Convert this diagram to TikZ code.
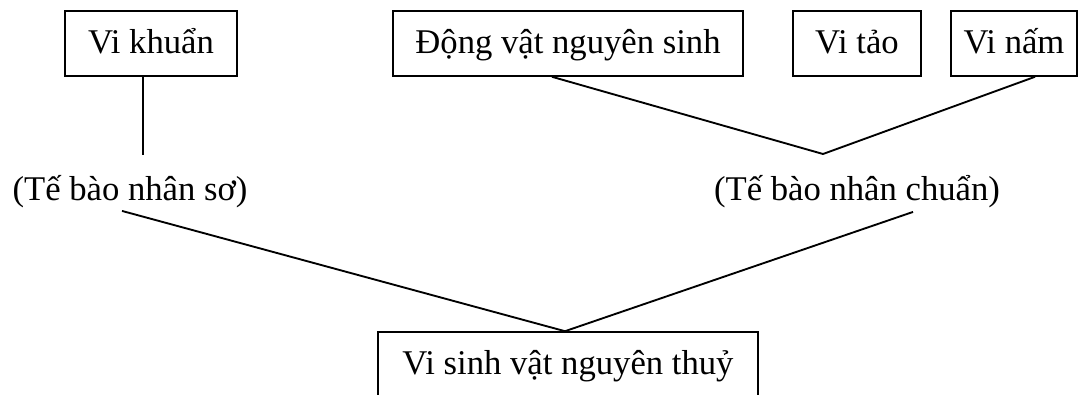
\documentclass[tikz,border=0pt]{standalone}
\usepackage{fontspec}
\setmainfont{Liberation Serif}
\newlength{\px}
\setlength{\px}{0.75pt}
\tikzset{
  hop/.style={draw, line width=1.2pt, inner sep=0pt, minimum height=65\px, text height=20.8pt, text depth=5.7pt},
  nhan/.style={inner sep=0pt, text height=20.8pt, text depth=5.7pt},
  noi/.style={line width=1.4pt}
}
\begin{document}
\begin{tikzpicture}[x=\px,y=-\px,font=\fontsize{26}{31}\selectfont]
        \useasboundingbox (0,0) rectangle (1083,395);

        %the groups on top
        \foreach \ten/\cx/\rong/\chu in {khuan/151/172/Vi khuẩn, dongvat/568/350/Động vật nguyên sinh, tao/857/128/Vi tảo, nam/1014/126/Vi nấm}{
          \node[hop, minimum width=\rong\px] (\ten) at (\cx,43.5) {\chu};
        }

        %cell types
        \node[nhan] (so) at (130,190) {(Tế bào nhân sơ)};
        \node[nhan] (chuan) at (857,190) {(Tế bào nhân chuẩn)};

        %the root
        \node[hop, minimum width=380\px] (goc) at (568,364.5) {Vi sinh vật nguyên thuỷ};

        %links
        \coordinate (kh) at (143,155);
        \coordinate (nc) at (823,154);
        \draw[noi] (khuan.south -| kh) -- (kh);
        \draw[noi] ([xshift=-16\px]dongvat.south) -- (nc) -- ([xshift=21\px]nam.south);
        \draw[noi] ([xshift=-8\px,yshift=-3\px]so.south) -- ([xshift=-3\px]goc.north) -- ([xshift=56\px,yshift=-4\px]chuan.south);
      \end{tikzpicture}
\end{document}
